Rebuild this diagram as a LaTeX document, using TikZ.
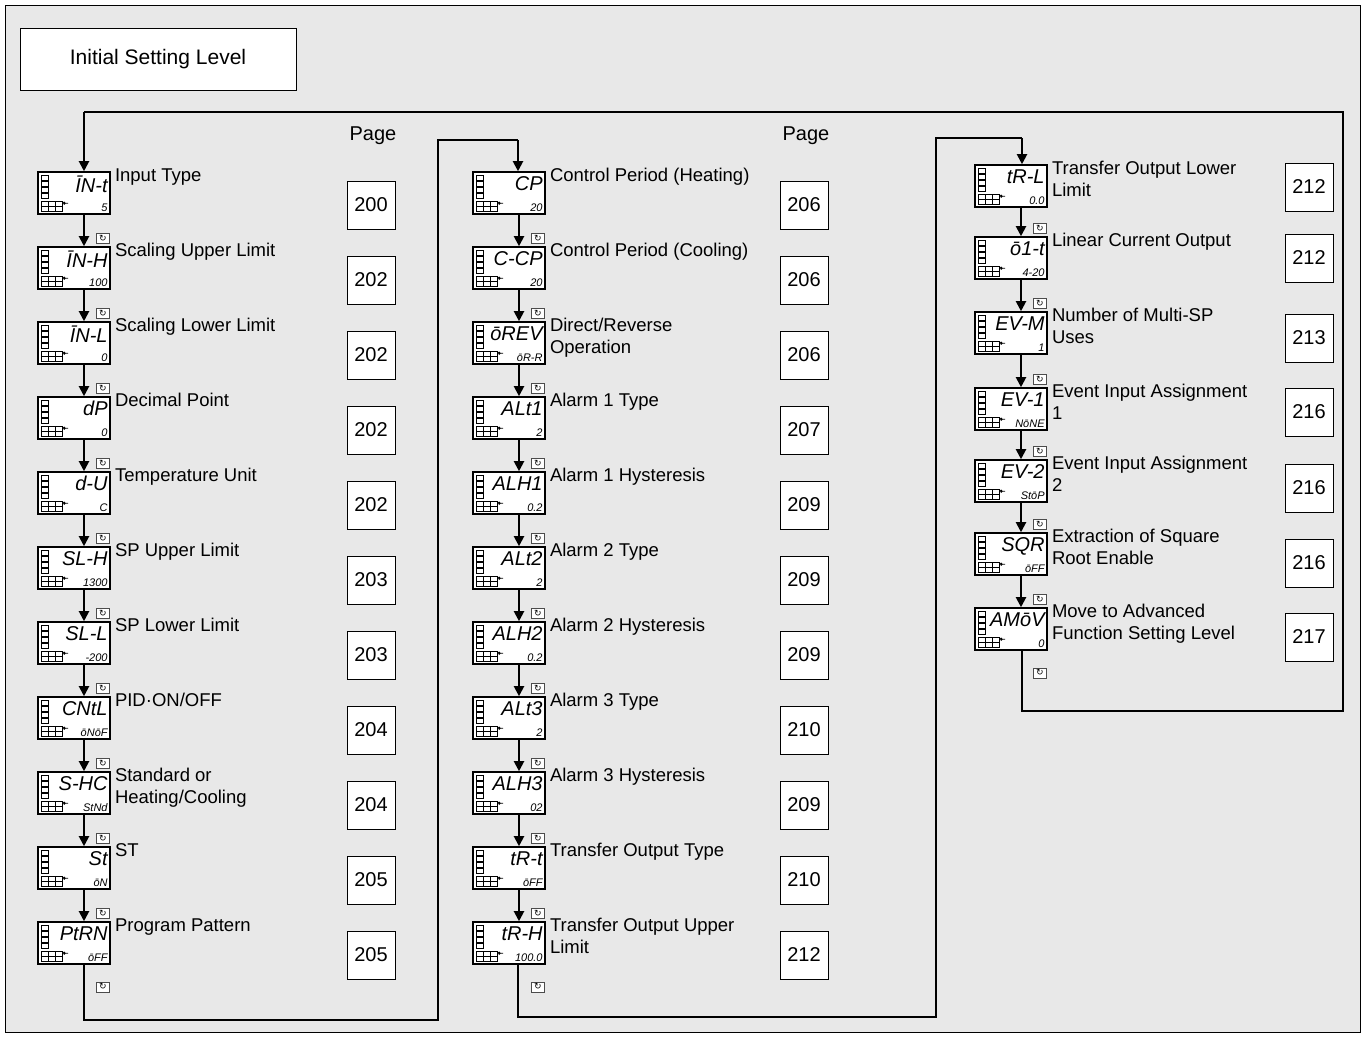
\documentclass[tikz,border=0pt]{standalone}
\usepackage{fontspec}
\setmainfont{Liberation Sans}
\newfontfamily\symf{DejaVu Sans}
\usetikzlibrary{arrows.meta,calc}

\tikzset{
  lcd/.style={draw, line width=1.6pt, fill=white, minimum width=72pt, minimum height=42pt, inner sep=0pt},
  pagebox/.style={draw, line width=0.9pt, fill=white, minimum width=48pt, minimum height=48pt, font=\fontsize{20}{24}\selectfont},
  lab/.style={anchor=north west, align=left, inner sep=1pt, font=\fontsize{18.5}{22}\selectfont},
  segbig/.style={anchor=north east, inner sep=0pt, font=\fontsize{20}{20}\selectfont\itshape},
  segsmall/.style={anchor=south east, inner sep=0pt, font=\fontsize{11}{11}\selectfont\itshape},
  keyicon/.style={draw=black!70, fill=white, line width=0.5pt, minimum width=13pt, minimum height=10pt, inner sep=0pt, font=\symf\fontsize{9}{9}\selectfont},
  flow/.style={line width=2pt, -{Triangle[length=10pt,width=10pt]}},
  link/.style={line width=2pt}
}

% decorations of one display
\newcommand\lcddeco[1]{%
  \begin{scope}[shift={(#1.north west)}, line width=0.6pt]
    \foreach \k in {0,...,3} \draw (4,4+6*\k) rectangle ++(7,5);
    \draw (4,30) rectangle ++(7,5) (11,30) rectangle ++(7,5) (18,30) rectangle ++(7,5);
    \draw (4,35) rectangle ++(7,5) (11,35) rectangle ++(7,5) (18,35) rectangle ++(7,5);
    \draw (27,32) circle (1.3) -- ++(4,0);
  \end{scope}}

\begin{document}
\begin{tikzpicture}[x=1pt, y=-1pt]
  \useasboundingbox (0,0) rectangle (1365,1037);
  \draw[fill=black!9, line width=1pt] (5,5) rectangle (1360,1032);
  \node[draw, fill=white, line width=1pt, minimum width=276pt, minimum height=62pt, font=\fontsize{21}{24}\selectfont] (title) at (158,59) {Initial Setting Level};

  \node[font=\fontsize{20}{24}\selectfont] (pg1) at (373,136) {Page};
  \node[font=\fontsize{20}{24}\selectfont] (pg2) at (806,136) {Page};

  % column 1
  \foreach \m/\s/\t/\p [count=\i from 0] in {
    ĪN-t/5/{Input Type}/200,
    ĪN-H/100/{Scaling Upper Limit}/202,
    ĪN-L/0/{Scaling Lower Limit}/202,
    dP/0/{Decimal Point}/202,
    d-U/C/{Temperature Unit}/202,
    SL-H/1300/{SP Upper Limit}/203,
    SL-L/-200/{SP Lower Limit}/203,
    CNtL/ōNōF/{PID·ON/OFF}/204,
    S-HC/StNd/{Standard or\\Heating/Cooling}/204,
    St/ōN/{ST}/205,
    PtRN/ōFF/{Program Pattern}/205}{
    \node[lcd] (a\i) at (74,193+75*\i) {};
    \lcddeco{a\i}
    \node[segbig] (a\i m) at ($(a\i.north east)+(-3,5)$) {\m};
    \node[segsmall] (a\i s) at ($(a\i.south east)+(-3,-3)$) {\s};
    \node[lab] (a\i l) at ($(a\i.north east)+(3,-4)$) {\t};
    \node[pagebox] (a\i p) at (371,205+75*\i) {\p};
  }

  % column 2
  \foreach \m/\s/\t/\p [count=\i from 0] in {
    CP/20/{Control Period (Heating)}/206,
    C-CP/20/{Control Period (Cooling)}/206,
    ōREV/ōR-R/{Direct/Reverse\\Operation}/206,
    ALt1/2/{Alarm 1 Type}/207,
    ALH1/0.2/{Alarm 1 Hysteresis}/209,
    ALt2/2/{Alarm 2 Type}/209,
    ALH2/0.2/{Alarm 2 Hysteresis}/209,
    ALt3/2/{Alarm 3 Type}/210,
    ALH3/02/{Alarm 3 Hysteresis}/209,
    tR-t/ōFF/{Transfer Output Type}/210,
    tR-H/100.0/{Transfer Output Upper\\Limit}/212}{
    \node[lcd] (b\i) at (509,193+75*\i) {};
    \lcddeco{b\i}
    \node[segbig] (b\i m) at ($(b\i.north east)+(-3,5)$) {\m};
    \node[segsmall] (b\i s) at ($(b\i.south east)+(-3,-3)$) {\s};
    \node[lab] (b\i l) at ($(b\i.north east)+(3,-4)$) {\t};
    \node[pagebox] (b\i p) at (804,205+75*\i) {\p};
  }

  % column 3
  \foreach \m/\s/\t/\p/\y/\q [count=\i from 0] in {
    tR-L/0.0/{Transfer Output Lower\\Limit}/212/186/187,
    ō1-t/4-20/{Linear Current Output}/212/258/258,
    EV-M/1/{Number of Multi-SP\\Uses}/213/333/338,
    EV-1/NōNE/{Event Input Assignment\\1}/216/409/412,
    EV-2/StōP/{Event Input Assignment\\2}/216/481/488,
    SQR/ōFF/{Extraction of Square\\Root Enable}/216/554/563,
    AMōV/0/{Move to Advanced\\Function Setting Level}/217/629/637}{
    \node[lcd] (c\i) at (1011,\y) {};
    \lcddeco{c\i}
    \node[segbig] (c\i m) at ($(c\i.north east)+(-3,5)$) {\m};
    \node[segsmall] (c\i s) at ($(c\i.south east)+(-3,-3)$) {\s};
    \node[lab] (c\i l) at ($(c\i.north east)+(3,-4)$) {\t};
    \node[pagebox] (c\i p) at (1309,\q) {\p};
  }

  % steps down each column
  \foreach \col/\last in {a/10,b/10,c/6}{
    \foreach \i [evaluate=\i as \j using int(\i+1)] in {0,...,\numexpr\last-1\relax}{
      \draw[flow] ($(\col\i.south)+(10,0)$) -- ($(\col\j.north)+(10,0)$);
      \node[keyicon] (\col\i k) at ($(\col\j.north)+(29,-8)$) {↻};
    }
  }
  \node[keyicon] (a10k) at ($(a10.south)+(29,22)$) {↻};
  \node[keyicon] (b10k) at ($(b10.south)+(29,22)$) {↻};
  \node[keyicon] (c6k) at ($(c6.south)+(29,22)$) {↻};

  % links between columns
  \coordinate (t1) at (84,112);
  \draw[link] (c6.south -| 1022,0) |- (1343,711) |- (t1);
  \draw[flow] (t1) -- (t1 |- a0.north);
  \coordinate (t2) at (518,140);
  \draw[link] (a10.south -| 84,0) |- (438,1020) |- (t2);
  \draw[flow] (t2) -- (t2 |- b0.north);
  \coordinate (t3) at (1022,138);
  \draw[link] (b10.south -| 518,0) |- (936,1017) |- (t3);
  \draw[flow] (t3) -- (t3 |- c0.north);
\end{tikzpicture}
\end{document}
